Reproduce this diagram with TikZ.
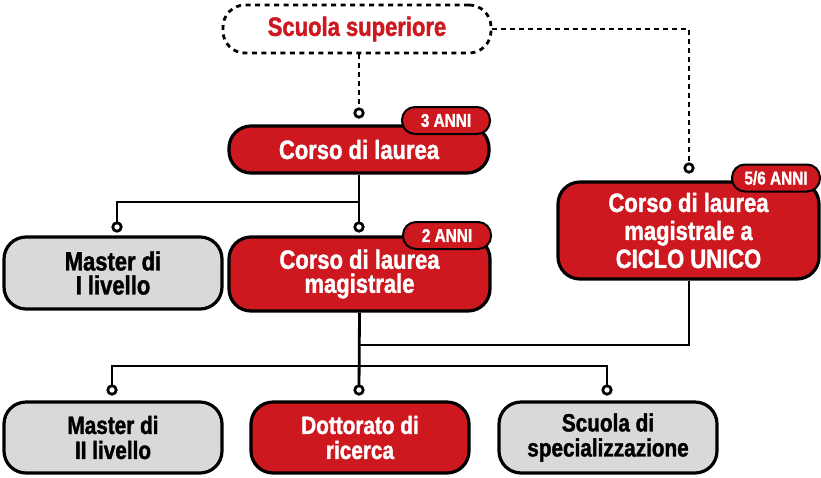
\documentclass[tikz,border=0pt]{standalone}
\usepackage{fontspec}
\setmainfont{Liberation Sans}[FakeStretch=0.83,FakeBold=1.4]
\definecolor{myred}{RGB}{204,24,30}
\definecolor{mygray}{RGB}{217,217,217}
\begin{document}
\begin{tikzpicture}[x=1pt,y=-1pt,
  box/.style={draw=black, line width=3.2pt, rounded corners=22pt, inner sep=0pt, align=center, font=\bfseries\fontsize{26.5}{24}\selectfont},
  redbox/.style={box, fill=myred, text=white},
  graybox/.style={box, fill=mygray, text=black},
  lowbox/.style={minimum width=218pt, minimum height=71pt, font=\bfseries\fontsize{25}{25}\selectfont},
  badge/.style={draw=black, line width=2pt, fill=myred, text=white, rounded corners=13pt, minimum width=88pt, minimum height=27pt, inner sep=0pt, font=\bfseries\fontsize{18.5}{18}\selectfont},
  dot/.style={circle, draw=black, line width=2.7pt, fill=white, minimum size=8.5pt, inner sep=0pt},
  conn/.style={line width=2.8pt},
  dconn/.style={conn, dash pattern=on 5pt off 4pt}]
\useasboundingbox (0,0) rectangle (821,477);
% boxes
\node[box, dash pattern=on 5pt off 4.5pt, line width=2.8pt, minimum width=268pt, minimum height=48pt, text=myred] (ss) at (357,29) {Scuola superiore};
\node[redbox, minimum width=260pt, minimum height=47pt] (c1) at (359,149.5) {Corso di laurea};
\node[badge] (b1) at (446,120.5) {3 ANNI};
\node[graybox, minimum width=218pt, minimum height=72pt] (m1) at (113,273) {Master di\\I livello};
\node[redbox, minimum width=261pt, minimum height=74pt] (c2) at (359.5,274) {Corso di laurea\\magistrale};
\node[badge] (b2) at (447,235.5) {2 ANNI};
\node[redbox, minimum width=261pt, minimum height=97pt, font=\bfseries\fontsize{26.5}{28}\selectfont] (c3) at (688.5,230.5) {Corso di laurea\\magistrale a\\CICLO UNICO};
\node[badge] (b3) at (776,178) {5/6 ANNI};
\node[graybox, lowbox] (m2) at (113,437.5) {Master di\\II livello};
\node[redbox, lowbox] (dr) at (360,437.5) {Dottorato di\\ricerca};
\node[graybox, lowbox] (sp) at (608,437.5) {Scuola di\\specializzazione};
% junction coordinates
\coordinate (k0) at (359,113);
\coordinate (k3) at (689,168);
\coordinate (j1) at (359,202);
\coordinate (j2) at (359,345);
\coordinate (j3) at (359,366);
% connectors
\draw[dconn] (k0 |- ss.south) -- (k0);
\draw[dconn] (ss.east) -- (k3 |- ss.east) -- (k3);
\draw[conn] (c1.south) -- (j1);
\draw[conn] (j1) -| (117,227);
\draw[conn] (j1) -- (359,227);
\draw[conn] (c2.south) -- (359,390);
\draw[conn] (c3.south -| k3) |- (j2);
\draw[conn] (112,390) |- (607,366) -- (607,390);
% dots
\node[dot] (d0) at (k0) {};
\node[dot] (d3) at (k3) {};
\node[dot] (d1a) at (117,227) {};
\node[dot] (d1b) at (359,227) {};
\node[dot] (d2a) at (112,390) {};
\node[dot] (d2b) at (359,390) {};
\node[dot] (d2c) at (607,390) {};
\end{tikzpicture}
\end{document}
